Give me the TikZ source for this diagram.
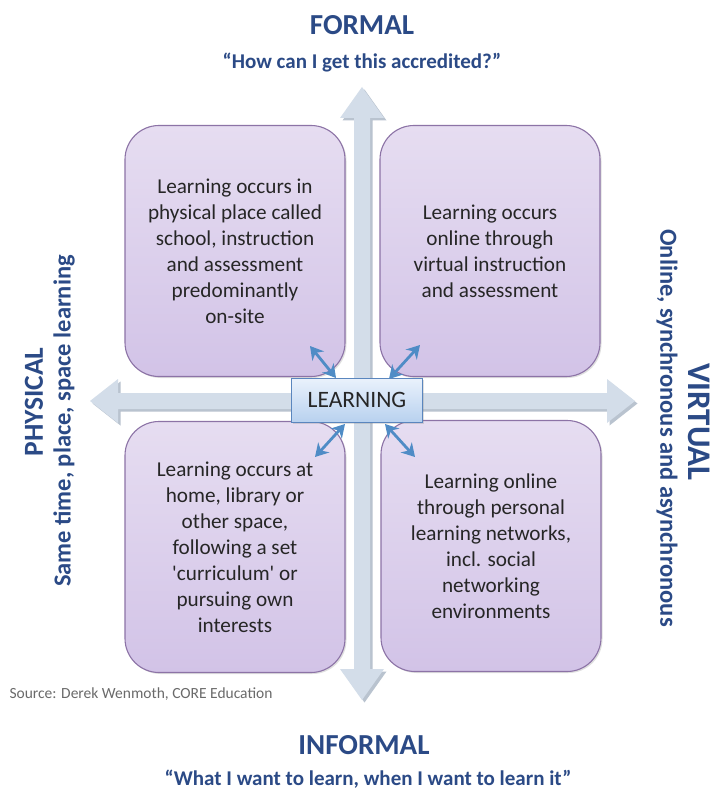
\documentclass[tikz,border=0pt]{standalone}
\usepackage{fontspec}
\setmainfont{Carlito}
\usetikzlibrary{arrows.meta,shadows}
\definecolor{titleblue}{HTML}{2B4A86}
\definecolor{bigarrow}{HTML}{D3DDE9}
\definecolor{bigshadow}{HTML}{B9C3CF}
\definecolor{boxedge}{HTML}{8C73A6}
\definecolor{boxtop}{HTML}{E6DDF1}
\definecolor{boxbot}{HTML}{D2C3E7}
\definecolor{lrnedge}{HTML}{5A86BE}
\definecolor{lrntop}{HTML}{EAF2FC}
\definecolor{lrnbot}{HTML}{B8D1EF}
\definecolor{diagblue}{HTML}{4F8CC6}
\definecolor{srcgray}{HTML}{6A6A6A}
\tikzset{
  quadbox/.style={rounded corners=34pt, draw=boxedge, line width=1.1pt,
    top color=boxtop, bottom color=boxbot, minimum width=220pt, minimum height=251pt,
    align=center, text=black!85, font=\fontsize{21.2}{26}\selectfont,
    drop shadow={opacity=0.25, shadow xshift=1.5pt, shadow yshift=-1.5pt}},
  lrnbox/.style={draw=lrnedge, line width=1pt, top color=lrntop, bottom color=lrnbot,
    minimum width=131pt, minimum height=44pt, font=\fontsize{23.5}{26}\selectfont, text=black!85,
    drop shadow={opacity=0.25, shadow xshift=1.5pt, shadow yshift=-1.5pt}},
  diagarrow/.style={draw=diagblue, line width=2.8pt, {Stealth[length=13pt,width=15pt]}-{Stealth[length=13pt,width=15pt]}},
  headtext/.style={text=titleblue, font=\bfseries\fontsize{29}{32}\selectfont},
  subtext/.style={text=titleblue, font=\bfseries\fontsize{21}{24}\selectfont},
  sidetext/.style={text=titleblue, font=\bfseries\fontsize{24.5}{27}\selectfont},
}
\begin{document}
\begin{tikzpicture}[x=1pt,y=-1pt]
\useasboundingbox (0,0) rectangle (712,791);
\fill[white] (0,0) rectangle (712,791);
% big cross arrows: shadows
\begin{scope}[shift={(2.5,2.5)}]
\fill[bigshadow] (90,401) -- (118,379) -- (118,393) -- (607,393) -- (607,379) -- (635,401) -- (607,423) -- (607,409) -- (118,409) -- (118,423) -- cycle;
\fill[bigshadow] (362,87) -- (384,118) -- (370,118) -- (370,669) -- (384,669) -- (362,700) -- (340,669) -- (354,669) -- (354,118) -- (340,118) -- cycle;
\end{scope}
\fill[bigarrow] (90,401) -- (118,379) -- (118,393) -- (607,393) -- (607,379) -- (635,401) -- (607,423) -- (607,409) -- (118,409) -- (118,423) -- cycle;
\fill[bigarrow] (362,87) -- (384,118) -- (370,118) -- (370,669) -- (384,669) -- (362,700) -- (340,669) -- (354,669) -- (354,118) -- (340,118) -- cycle;
% quadrant boxes
\node[quadbox] (tl) at (235,251) {Learning occurs in\\physical place called\\school, instruction\\and assessment\\predominantly\\on-site};
\node[quadbox] (tr) at (490,251) {Learning occurs\\online through\\virtual instruction\\and assessment};
\node[quadbox] (bl) at (235,547) {Learning occurs at\\home, library or\\other space,\\following a set\\\textquotesingle curriculum\textquotesingle{} or\\pursuing own\\interests};
\node[quadbox] (br) at (491,546) {Learning online\\through personal\\learning networks,\\incl. social\\networking\\environments};
% diagonal arrows
\coordinate (nw1) at (310,346);
\coordinate (nw2) at (336,378);
\coordinate (ne1) at (420,345);
\coordinate (ne2) at (389,379);
\coordinate (sw1) at (315,457);
\coordinate (sw2) at (345,424);
\coordinate (se1) at (415,457);
\coordinate (se2) at (385,424);
\draw[diagarrow] (nw2) -- (nw1);
\draw[diagarrow] (ne2) -- (ne1);
\draw[diagarrow] (sw2) -- (sw1);
\draw[diagarrow] (se2) -- (se1);
\node[lrnbox] (lrn) at (357,400) {LEARNING};
% titles
\node[headtext] (formal) at (362,25) {FORMAL};
\node[subtext] (formalq) at (362,63) {“How can I get this accredited?”};
\node[headtext] (informal) at (364,745) {INFORMAL};
\node[subtext] (informalq) at (368,779) {“What I want to learn, when I want to learn it”};
\node[sidetext, font=\bfseries\fontsize{27.5}{30}\selectfont, rotate=90] (physical) at (34,402) {PHYSICAL};
\node[sidetext, rotate=90] (physicalq) at (64,421) {Same time, place, space learning};
\node[sidetext, font=\bfseries\fontsize{33}{36}\selectfont, rotate=-90] (virtual) at (699,422) {VIRTUAL};
\node[sidetext, rotate=-90] (virtualq) at (667,428) {Online, synchronous and asynchronous};
\node[anchor=west, text=srcgray, font=\fontsize{15.5}{18}\selectfont] (src) at (6,694) {Source: Derek Wenmoth, CORE Education};
\end{tikzpicture}
\end{document}
